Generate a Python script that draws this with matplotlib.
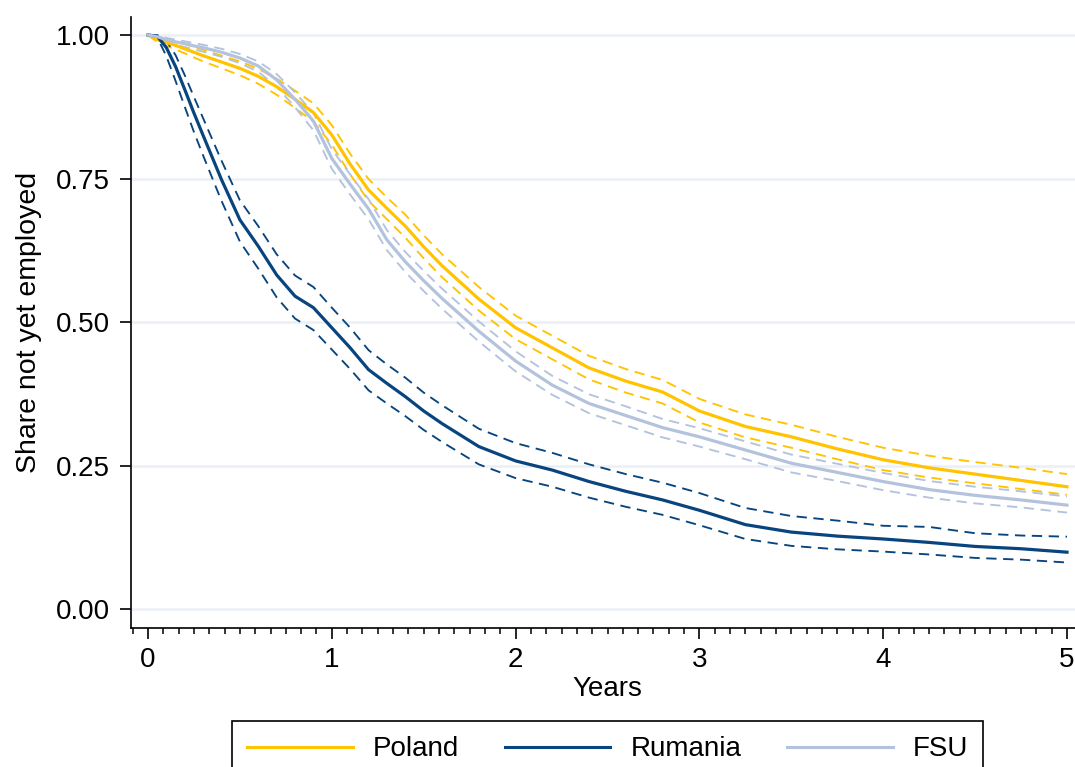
import matplotlib
matplotlib.use("Agg")
import matplotlib.pyplot as plt
from matplotlib.ticker import MultipleLocator, FixedLocator
from matplotlib.lines import Line2D

plt.rcParams['font.family'] = ['Liberation Sans', 'DejaVu Sans']

years = [0, 0.05, 0.1, 0.15, 0.2, 0.25, 0.3, 0.4, 0.5, 0.6, 0.7, 0.8, 0.9, 1.0, 1.1, 1.2,
         1.3, 1.4, 1.5, 1.6, 1.8, 2.0, 2.2, 2.4, 2.6, 2.8, 3.0, 3.25, 3.5, 3.75, 4.0, 4.25,
         4.5, 4.75, 5.0]

poland = [1.0, 0.992, 0.987, 0.982, 0.976, 0.970, 0.964, 0.953, 0.942, 0.928, 0.91, 0.888,
          0.865, 0.826, 0.775, 0.73, 0.698, 0.667, 0.631, 0.598, 0.54, 0.49, 0.455, 0.42,
          0.397, 0.378, 0.345, 0.318, 0.3, 0.279, 0.26, 0.246, 0.235, 0.224, 0.213]
poland_hi = [1.0, 0.996, 0.993, 0.989, 0.984, 0.979, 0.974, 0.964, 0.954, 0.941, 0.924, 0.903,
             0.881, 0.843, 0.793, 0.749, 0.717, 0.687, 0.651, 0.618, 0.561, 0.511, 0.476, 0.441,
             0.418, 0.399, 0.366, 0.339, 0.321, 0.3, 0.281, 0.267, 0.256, 0.246, 0.235]
poland_lo = [1.0, 0.988, 0.981, 0.975, 0.968, 0.961, 0.954, 0.942, 0.93, 0.915, 0.896, 0.873,
             0.849, 0.809, 0.757, 0.711, 0.679, 0.647, 0.611, 0.578, 0.52, 0.47, 0.435, 0.4,
             0.377, 0.358, 0.325, 0.299, 0.281, 0.261, 0.242, 0.229, 0.219, 0.209, 0.199]

rumania = [1.0, 0.998, 0.978, 0.945, 0.905, 0.864, 0.825, 0.748, 0.678, 0.632, 0.582, 0.545,
           0.525, 0.49, 0.455, 0.417, 0.393, 0.37, 0.345, 0.323, 0.283, 0.258, 0.242, 0.222,
           0.205, 0.19, 0.172, 0.147, 0.134, 0.127, 0.122, 0.116, 0.109, 0.105, 0.099]
rumania_hi = [1.0, 1.0, 0.99, 0.965, 0.93, 0.892, 0.855, 0.781, 0.712, 0.667, 0.618, 0.581,
              0.561, 0.525, 0.49, 0.451, 0.426, 0.403, 0.377, 0.355, 0.314, 0.289, 0.272, 0.252,
              0.235, 0.22, 0.202, 0.176, 0.162, 0.154, 0.145, 0.143, 0.132, 0.128, 0.126]
rumania_lo = [1.0, 0.996, 0.963, 0.92, 0.875, 0.831, 0.79, 0.711, 0.64, 0.593, 0.543, 0.506,
              0.486, 0.452, 0.418, 0.381, 0.358, 0.336, 0.312, 0.291, 0.252, 0.228, 0.213, 0.194,
              0.178, 0.164, 0.146, 0.122, 0.11, 0.104, 0.1, 0.095, 0.089, 0.086, 0.081]

fsu = [1.0, 0.997, 0.992, 0.988, 0.985, 0.981, 0.978, 0.97, 0.96, 0.946, 0.922, 0.888, 0.85,
       0.785, 0.74, 0.697, 0.643, 0.605, 0.572, 0.541, 0.484, 0.432, 0.39, 0.358, 0.337,
       0.316, 0.30, 0.277, 0.254, 0.238, 0.222, 0.208, 0.198, 0.19, 0.181]
fsu_hi = [1.0, 0.999, 0.995, 0.992, 0.989, 0.986, 0.983, 0.976, 0.967, 0.954, 0.932, 0.9,
          0.864, 0.801, 0.757, 0.714, 0.66, 0.622, 0.589, 0.558, 0.501, 0.449, 0.406, 0.374,
          0.353, 0.331, 0.315, 0.292, 0.269, 0.253, 0.237, 0.223, 0.213, 0.205, 0.196]
fsu_lo = [1.0, 0.995, 0.988, 0.983, 0.979, 0.975, 0.971, 0.962, 0.951, 0.936, 0.91, 0.874,
          0.834, 0.767, 0.722, 0.679, 0.625, 0.587, 0.554, 0.523, 0.466, 0.414, 0.373, 0.341,
          0.32, 0.299, 0.283, 0.261, 0.238, 0.223, 0.207, 0.194, 0.184, 0.177, 0.168]

labels = ["Poland", "Rumania", "FSU"]
colors = ["#FFC300", "#08457E", "#B3C3DD"]
ytick_vals = [0.0, 0.25, 0.5, 0.75, 1.0]
xtick_vals = [0, 1, 2, 3, 4, 5]

FS = 20

fig = plt.figure(figsize=(10.75, 7.67), dpi=100)
ax = fig.add_axes([131/1075, 1 - 628/767, 1 - 131/1075, (628 - 17)/767])

for yv in ytick_vals:
    ax.axhline(yv, color="#EAF0F5", lw=1.8, zorder=0)

series = [(poland, poland_hi, poland_lo), (rumania, rumania_hi, rumania_lo), (fsu, fsu_hi, fsu_lo)]
for (m, hi, lo), c in zip(series, colors):
    ax.plot(years, hi, color=c, lw=1.35, dashes=(5.5, 3.5), zorder=2)
    ax.plot(years, lo, color=c, lw=1.35, dashes=(5.5, 3.5), zorder=2)
    ax.plot(years, m, color=c, lw=2.3, zorder=3, solid_joinstyle='round')

ax.set_xlim(-0.0925, 5.0435)
ax.set_ylim(-0.0331, 1.0314)
ax.spines['top'].set_visible(False)
ax.spines['right'].set_visible(False)
ax.spines['left'].set_linewidth(1.2)
ax.spines['bottom'].set_linewidth(1.2)

ax.yaxis.set_major_locator(FixedLocator(ytick_vals))
ax.set_yticklabels([f"{v:.2f}" for v in ytick_vals])
ax.xaxis.set_major_locator(FixedLocator(xtick_vals))
ax.set_xticklabels([str(v) for v in xtick_vals])
ax.xaxis.set_minor_locator(MultipleLocator(1/12))
ax.tick_params(axis='both', which='major', length=8, width=1.2, labelsize=FS, color='black')
ax.tick_params(axis='x', which='major', pad=6)
ax.tick_params(axis='y', which='major', pad=7)
ax.tick_params(axis='x', which='minor', length=4, width=1.1)

ax.set_ylabel("Share not yet employed", fontsize=FS + 0.5, labelpad=10)
ax.set_xlabel("Years", fontsize=FS, labelpad=0)
ax.xaxis.set_label_coords((2.5 + 0.0925) / (5.0435 + 0.0925), -0.078)

handles = [Line2D([0], [0], color=c, lw=2.2) for c in colors]
leg = fig.legend(handles, labels, loc='upper center',
                 bbox_to_anchor=(607.5/1075, 1 - 721/767), ncol=3, frameon=True,
                 fancybox=False, framealpha=1, fontsize=FS, handlelength=3.8,
                 handletextpad=0.72, columnspacing=1.65, borderpad=0.55, borderaxespad=0)
leg.get_frame().set_edgecolor('black')
leg.get_frame().set_linewidth(1.2)

fig.savefig("out.png", dpi=100)
